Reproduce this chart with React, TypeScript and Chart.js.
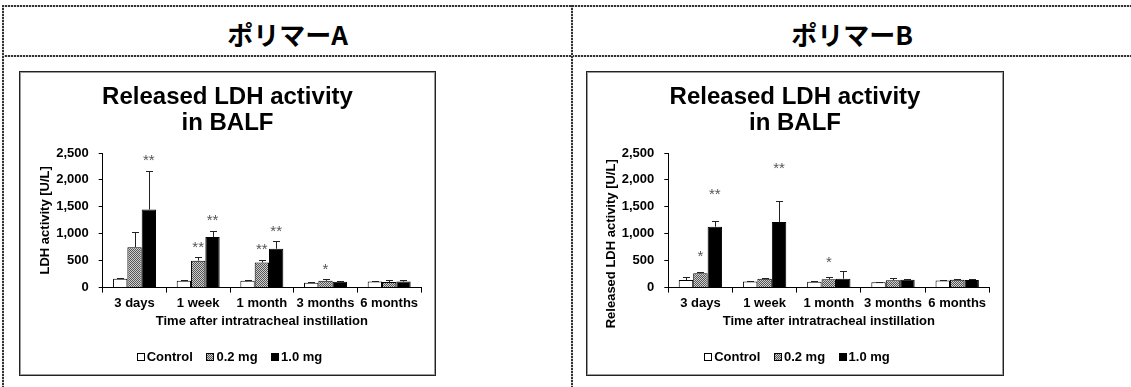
import React, { useEffect, useRef } from "react";
import { Chart, registerables } from "chart.js";

Chart.register(...registerables);

const FONT = "'Liberation Sans', Arial, Helvetica, sans-serif";

// ---- shared data ----
const categories = ["3 days", "1 week", "1 month", "3 months", "6 months"];
const seriesNames = ["Control", "0.2 mg", "1.0 mg"];
const yTickValues = [0, 500, 1000, 1500, 2000, 2500];
const xAxisTitle = "Time after intratracheal instillation";
const chartTitle = ["Released LDH activity", "in BALF"];

// ---- Polymer A ----
const aControl = [165, 125, 125, 90, 115];
const aControlErr = [22, 10, 10, 14, 14];
const aLow = [750, 500, 465, 125, 105];
const aLowErr = [285, 70, 50, 30, 30];
const aHigh = [1450, 940, 722, 110, 112];
const aHighErr = [715, 110, 135, 15, 30];
const aLowSig = ["", "**", "**", "*", ""];
const aLowSigY = [null, 800, 748, 390, null];
const aHighSig = ["**", "**", "**", "", ""];
const aHighSigY = [2406, 1289, 1100, null, null];

// ---- Polymer B ----
const bControl = [140, 115, 110, 100, 130];
const bControlErr = [60, 15, 15, 10, 15];
const bLow = [265, 165, 155, 135, 145];
const bLowErr = [30, 20, 50, 45, 15];
const bHigh = [1130, 1220, 165, 145, 140];
const bHighErr = [115, 385, 145, 10, 15];
const bLowSig = ["*", "", "*", "", ""];
const bLowSigY = [626, null, 520, null, null];
const bHighSig = ["**", "**", "", "", ""];
const bHighSigY = [1773, 2259, null, null, null];

const errorBarPlugin = {
  id: "errorBarsAndSig",
  afterDatasetsDraw(chart: any) {
    const ctx = chart.ctx;
    const yScale = chart.scales.y;
    chart.data.datasets.forEach((ds: any, i: number) => {
      const meta = chart.getDatasetMeta(i);
      meta.data.forEach((bar: any, j: number) => {
        const v = ds.data[j];
        const e = ds.errors ? ds.errors[j] : 0;
        if (e) {
          const yTop = Math.round(yScale.getPixelForValue(v + e)) + 0.5;
          const x = Math.round(bar.x) + 0.5;
          ctx.save();
          ctx.strokeStyle = "#222";
          ctx.lineWidth = 1;
          ctx.beginPath();
          ctx.moveTo(x, bar.y);
          ctx.lineTo(x, yTop);
          ctx.moveTo(x - 3.5, yTop);
          ctx.lineTo(x + 3.5, yTop);
          ctx.stroke();
          ctx.restore();
        }
        const s = ds.sig ? ds.sig[j] : "";
        const sy = ds.sigY ? ds.sigY[j] : null;
        if (s && sy != null) {
          ctx.save();
          ctx.fillStyle = "#555";
          ctx.font = `15px ${FONT}`;
          ctx.textAlign = "center";
          ctx.textBaseline = "middle";
          ctx.fillText(s, bar.x, yScale.getPixelForValue(sy) + 3);
          ctx.restore();
        }
      });
    });
  },
};

// compact legend: small box, 2px gap, text; drawn from the datasets
const compactLegendPlugin = {
  id: "compactLegend",
  afterDraw(chart: any, _args: any, opts: any) {
    const ctx = chart.ctx;
    const font = `bold 13px ${FONT}`;
    const box = 8;
    const gap = 2;
    const spacing = 13.5;
    ctx.save();
    ctx.font = font;
    const items = chart.data.datasets.map((ds: any) => ({
      text: ds.label as string,
      fill: ds.backgroundColor,
      w: box + gap + ctx.measureText(ds.label).width,
    }));
    const total =
      items.reduce((s: number, it: any) => s + it.w, 0) + spacing * (items.length - 1);
    let x = chart.width / 2 + (opts.dx || 0) - total / 2;
    const y = opts.y;
    items.forEach((it: any) => {
      const bx = Math.round(x) + 0.5;
      const by = Math.round(y - box / 2) + 0.5;
      ctx.fillStyle = it.fill;
      ctx.fillRect(bx, by, box - 1, box - 1);
      ctx.strokeStyle = "#000";
      ctx.lineWidth = 1;
      ctx.strokeRect(bx, by, box - 1, box - 1);
      ctx.fillStyle = "#000";
      ctx.textAlign = "left";
      ctx.textBaseline = "middle";
      ctx.fillText(it.text, x + box + gap, y + 0.5);
      x += it.w + spacing;
    });
    ctx.restore();
  },
};

type PanelData = {
  control: number[];
  controlErr: number[];
  low: number[];
  lowErr: number[];
  high: number[];
  highErr: number[];
  lowSig: string[];
  lowSigY: (number | null)[];
  highSig: string[];
  highSigY: (number | null)[];
};

function makePattern(): CanvasPattern | string {
  const c = document.createElement("canvas");
  c.width = 2;
  c.height = 2;
  const g = c.getContext("2d");
  if (!g) return "#999";
  g.fillStyle = "#cfcfcf";
  g.fillRect(0, 0, 2, 2);
  g.fillStyle = "#555";
  g.fillRect(0, 0, 1, 1);
  g.fillRect(1, 1, 1, 1);
  return g.createPattern(c, "repeat") || "#999";
}

function LdhChart(props: {
  left: number;
  top: number;
  width: number;
  height: number;
  data: PanelData;
  yTitle: string;
  yAxisWidth: number;
  padX: number;
}) {
  const ref = useRef<HTMLCanvasElement | null>(null);
  useEffect(() => {
    if (!ref.current) return;
    const p = props.data;
    const pattern = makePattern();
    const tickFont = { family: FONT, size: 13, weight: "bold" as const };
    const chart = new Chart(ref.current, {
      type: "bar",
      data: {
        labels: categories,
        datasets: [
          {
            label: seriesNames[0],
            data: p.control,
            errors: p.controlErr,
            backgroundColor: "#ffffff",
            borderColor: "#000",
            borderWidth: 1,
          } as any,
          {
            label: seriesNames[1],
            data: p.low,
            errors: p.lowErr,
            sig: p.lowSig,
            sigY: p.lowSigY,
            backgroundColor: pattern,
            borderColor: "#000",
            borderWidth: 1,
          } as any,
          {
            label: seriesNames[2],
            data: p.high,
            errors: p.highErr,
            sig: p.highSig,
            sigY: p.highSigY,
            backgroundColor: "#000",
            borderColor: "#000",
            borderWidth: 1,
          } as any,
        ],
      },
      options: {
        responsive: false,
        animation: false,
        layout: { padding: { left: props.padX, right: props.padX, top: 0, bottom: 45.2 } },
        datasets: { bar: { categoryPercentage: 0.675, barPercentage: 1 } },
        plugins: {
          title: {
            display: true,
            text: chartTitle,
            color: "#000",
            font: { family: FONT, size: 24, weight: "bold", lineHeight: 26 / 24 },
            padding: { top: 12, bottom: 17 },
          },
          legend: { display: false },
          tooltip: { enabled: false },
          compactLegend: { y: 285, dx: 2 },
        },
        scales: {
          x: {
            grid: {
              display: true,
              drawOnChartArea: false,
              drawTicks: true,
              tickLength: 5,
              color: "#000",
              offset: true,
            },
            border: { display: true, color: "#000", width: 1 },
            ticks: { color: "#000", font: tickFont, padding: 3, maxRotation: 0, autoSkip: false },
            title: {
              display: true,
              text: xAxisTitle,
              color: "#000",
              font: tickFont,
              padding: { top: -1, bottom: 0 },
            },
          },
          y: {
            min: 0,
            max: 2500,
            afterBuildTicks: (s: any) => {
              s.ticks = yTickValues.map((v) => ({ value: v }));
            },
            afterFit: (s: any) => {
              s.width = props.yAxisWidth;
            },
            grid: { display: true, drawOnChartArea: false, tickLength: 4, color: "#000" },
            border: { display: true, color: "#000", width: 1 },
            ticks: {
              color: "#000",
              font: tickFont,
              padding: 10,
              callback: (v: any) => Number(v).toLocaleString("en-US"),
            },
            title: {
              display: true,
              text: props.yTitle,
              color: "#000",
              font: tickFont,
              padding: { top: 3.2, bottom: 0 },
            },
          },
        },
      } as any,
      plugins: [errorBarPlugin, compactLegendPlugin],
    });
    return () => chart.destroy();
  }, []);
  return (
    <canvas
      ref={ref}
      width={props.width}
      height={props.height}
      style={{
        position: "absolute",
        left: props.left,
        top: props.top,
        width: props.width,
        height: props.height,
      }}
    />
  );
}

const hDots = "repeating-linear-gradient(to right, #333 0px, #333 2px, #d0d0d0 2px, #d0d0d0 3px)";
const vDots = "repeating-linear-gradient(to bottom, #333 0px, #333 2px, #d0d0d0 2px, #d0d0d0 3px)";

function HLine(props: { left: number; top: number; width: number }) {
  return (
    <div
      style={{
        position: "absolute",
        left: props.left,
        top: props.top,
        width: props.width,
        height: 2,
        background: hDots,
      }}
    />
  );
}
function VLine(props: { left: number; top: number; height: number }) {
  return (
    <div
      style={{
        position: "absolute",
        left: props.left,
        top: props.top,
        width: 2,
        height: props.height,
        background: vDots,
      }}
    />
  );
}

function Box(props: { left: number; top: number; width: number; height: number }) {
  return (
    <div
      style={{
        position: "absolute",
        left: props.left,
        top: props.top,
        width: props.width,
        height: props.height,
        boxSizing: "border-box",
        border: "1px solid #222",
        boxShadow: "inset 0 0 0 1px #9a9a9a",
      }}
    />
  );
}

const headerStyle: React.CSSProperties = {
  position: "absolute",
  top: 21,
  height: 26,
  lineHeight: "26px",
  textAlign: "center",
  fontFamily: "'Noto Sans CJK JP', sans-serif",
  fontWeight: 700,
  fontSize: 26,
  color: "#000",
};

export default function App() {
  useEffect(() => {
    document.body.style.margin = "0";
  }, []);
  const panelA: PanelData = {
    control: aControl,
    controlErr: aControlErr,
    low: aLow,
    lowErr: aLowErr,
    high: aHigh,
    highErr: aHighErr,
    lowSig: aLowSig,
    lowSigY: aLowSigY,
    highSig: aHighSig,
    highSigY: aHighSigY,
  };
  const panelB: PanelData = {
    control: bControl,
    controlErr: bControlErr,
    low: bLow,
    lowErr: bLowErr,
    high: bHigh,
    highErr: bHighErr,
    lowSig: bLowSig,
    lowSigY: bLowSigY,
    highSig: bHighSig,
    highSigY: bHighSigY,
  };
  return (
    <div
      style={{
        position: "relative",
        width: 1131,
        height: 387,
        background: "#fff",
        overflow: "hidden",
      }}
    >
      <HLine left={2} top={5} width={1129} />
      <HLine left={2} top={55} width={1129} />
      <VLine left={2} top={5} height={382} />
      <VLine left={571} top={5} height={382} />
      <div style={{ ...headerStyle, left: 4, width: 567 }}>ポリマーA</div>
      <div style={{ ...headerStyle, left: 573, width: 558 }}>ポリマーB</div>

      <Box left={19} top={71} width={417} height={305} />
      <Box left={586} top={71} width={418} height={305} />

      <LdhChart
        left={20}
        top={72}
        width={415}
        height={302}
        data={panelA}
        yTitle="LDH activity [U/L]"
        yAxisWidth={68.7}
        padX={14}
      />
      <LdhChart
        left={587}
        top={72}
        width={416}
        height={302}
        data={panelB}
        yTitle={"Released LDH activity [U/L]" + " ".repeat(13)}
        yAxisWidth={67.6}
        padX={13.7}
      />
    </div>
  );
}
